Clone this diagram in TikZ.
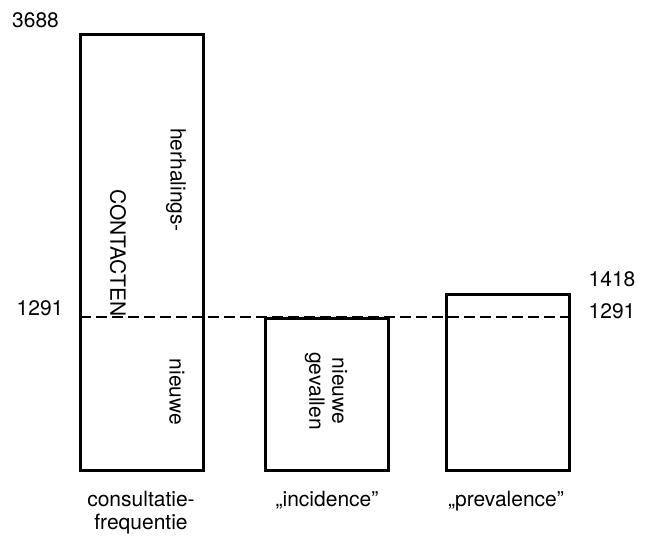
\documentclass[tikz,border=0pt]{standalone}
\usepackage{fontspec}
\setmainfont{TeX Gyre Heros}
\usetikzlibrary{arrows.meta}
\tikzset{
  bar/.style     = {rectangle, draw=black, line width=3pt, minimum width=123pt,
                    inner sep=0pt},
  val/.style     = {inner sep=0pt, font=\fontsize{21}{23}\selectfont},
  inbar/.style   = {inner sep=0pt, rotate=-90, align=center,
                    font=\fontsize{21}{23}\selectfont},
  barlabel/.style = {inner sep=0pt, anchor=north, align=center,
                    font=\fontsize{21}{23}\selectfont},
  split/.style   = {line width=2pt, dash pattern=on 11pt off 5pt},
}
\begin{document}
\begin{tikzpicture}[x=1pt, y=-1pt]
      \useasboundingbox (0,0) rectangle (647,539);
      \node[bar, minimum height=436pt] (consult) at (141.5, 252) {};
      \node[bar, minimum height=152pt] (incid)   at (327, 394)   {};
      \node[bar, minimum height=176pt] (preval)  at (507.5, 382) {};
      \coordinate (cutl) at (80, 317);
      \coordinate (cutr) at (569, 317);
      \draw[split] (cutl) -- (cutr);
      \node[val] (top)    at (35.5, 20) {3688};
      \node[val] (basel)  at (40, 308)  {1291};
      \node[val] (prevt)  at (612, 279) {1418};
      \node[val] (baser)  at (612, 311) {1291};
      \node[inbar] (herh)  at (176, 180) {herhalings-};
      \node[inbar] (cont)  at (118, 253) {CONTACTEN};
      \node[inbar] (nwc)   at (177, 392) {nieuwe};
      \node[inbar] (nwg)   at (326, 391) {nieuwe\\gevallen};
      \node[barlabel] (lconsult) at (141, 491) {consultatie-\\frequentie};
      \node[barlabel] (lincid)   at (327, 491) {„incidence”};
      \node[barlabel] (lpreval)  at (506, 491) {„prevalence”};
    \end{tikzpicture}
\end{document}
